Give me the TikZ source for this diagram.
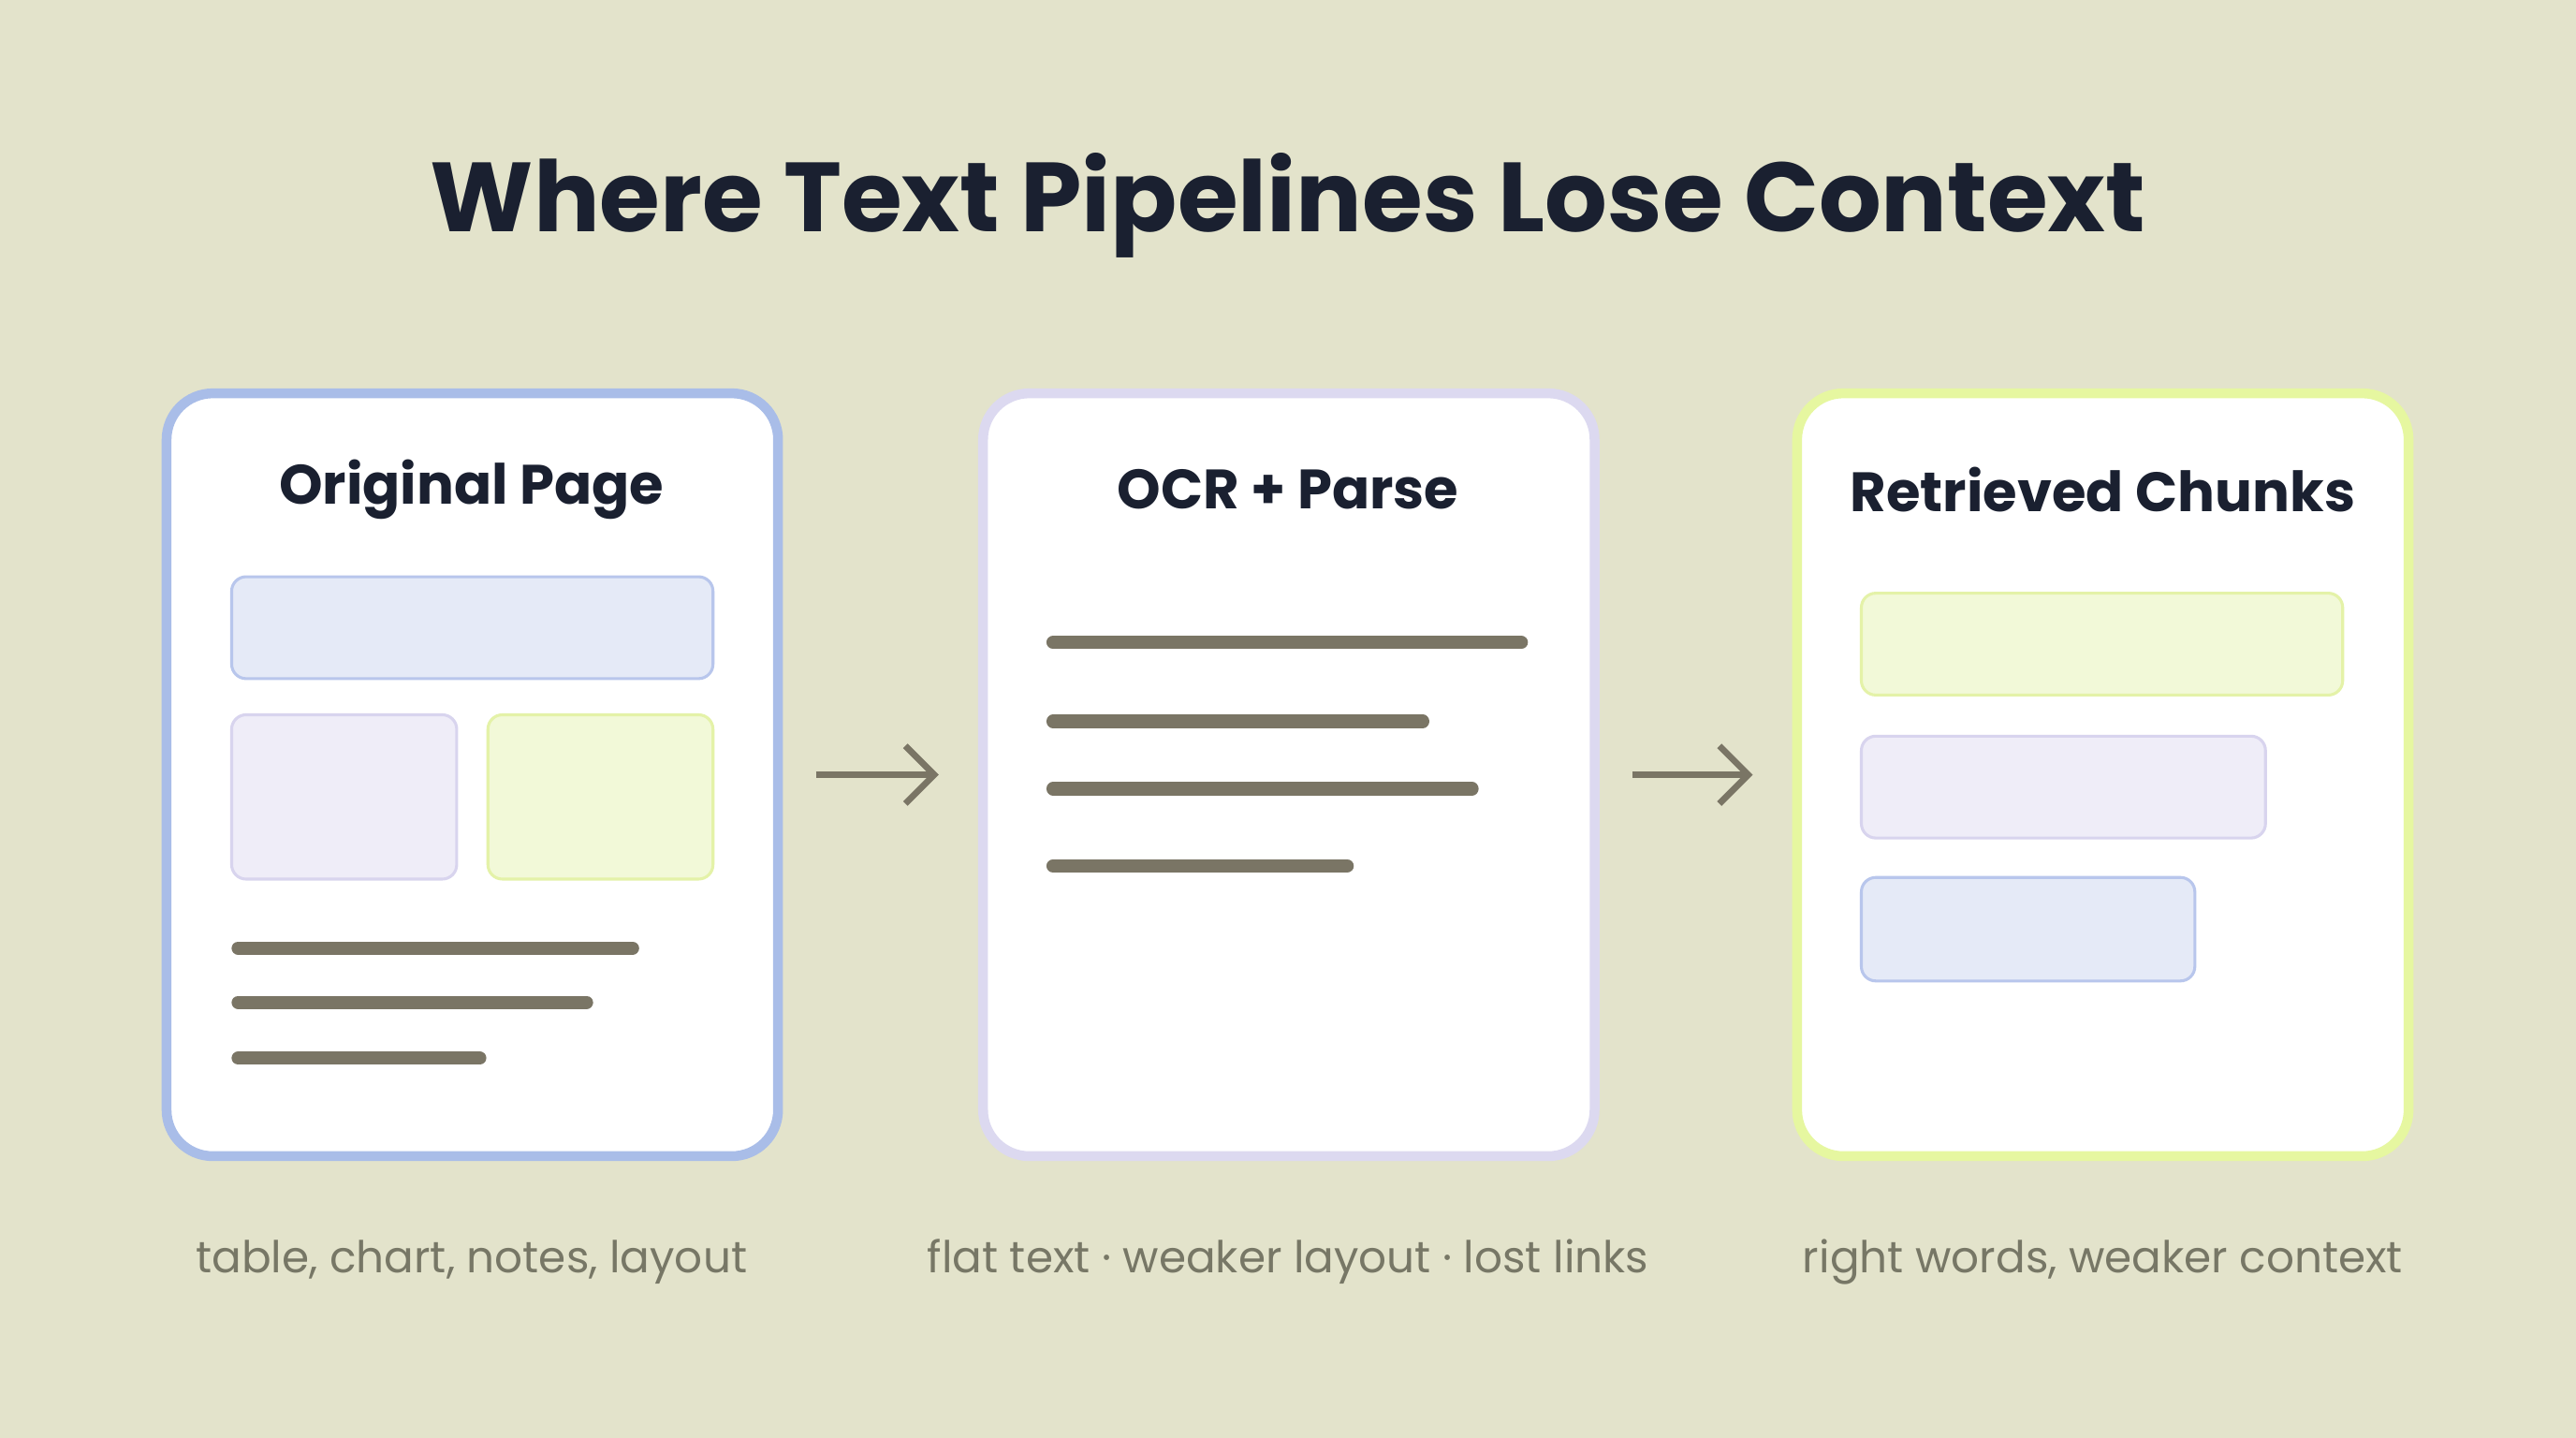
\documentclass[tikz,border=0pt]{standalone}
\usepackage{fontspec}
\setmainfont{Poppins}
\usetikzlibrary{arrows.meta}
\definecolor{bgc}{HTML}{E3E3CB}
\definecolor{ink}{HTML}{1A2030}
\definecolor{capc}{HTML}{777766}
\definecolor{barc}{HTML}{7A7565}
\definecolor{blueE}{HTML}{A9BDE8}
\definecolor{lavE}{HTML}{DCD9F0}
\definecolor{grnE}{HTML}{E6F7A0}
\definecolor{blueF}{HTML}{E5EAF7}
\definecolor{blueB}{HTML}{B8C6EC}
\definecolor{lavF}{HTML}{EFEDF8}
\definecolor{lavB}{HTML}{D8D4EE}
\definecolor{grnF}{HTML}{F2F9D8}
\definecolor{grnB}{HTML}{E4F2A8}
\begin{document}
\begin{tikzpicture}
[x=0.01cm,y=-0.01cm,
panel/.style={draw=#1,line width=1.7pt,fill=white,rounded corners=8pt,minimum width=3.72cm,minimum height=4.64cm,inner sep=0pt},
ptitle/.style={font=\fontsize{9.6}{11}\selectfont\bfseries,text=ink},
caption/.style={font=\fontsize{7.6}{9}\selectfont,text=capc},
blk/.style={draw=#1,line width=0.5pt,rounded corners=2.5pt},
bar/.style={draw=barc,line width=2.3pt,line cap=round},
flow/.style={draw=barc,line width=1.1pt,-{Straight Barb[length=5pt,width=10pt]}}]
\fill[bgc] (0,0) rectangle (1568,875);
\node[font=\fontsize{17}{20}\selectfont\bfseries,text=ink] (title) at (784,125) {Where Text Pipelines Lose Context};
% panels
\node[panel=blueE] (orig) at (287.5,471.5) {};
\node[panel=lavE] (ocr) at (784.5,471.5) {};
\node[panel=grnE] (ret) at (1280,471.5) {};
\node[ptitle] (origT) at (287,298) {Original Page};
\node[ptitle] (ocrT) at (784,298) {OCR + Parse};
\node[ptitle] (retT) at (1280,298) {Retrieved Chunks};
% original page
\draw[blk=blueB,fill=blueF] (141,351) rectangle (434,413);
\draw[blk=lavB,fill=lavF] (141,435) rectangle (278,535);
\draw[blk=grnB,fill=grnF] (297,435) rectangle (434,535);
\draw[bar] (145,577) -- (385,577);
\draw[bar] (145,610) -- (357,610);
\draw[bar] (145,644) -- (292,644);
% parsed text
\draw[bar] (641,391) -- (926,391);
\draw[bar] (641,439) -- (866,439);
\draw[bar] (641,480) -- (896,480);
\draw[bar] (641,527) -- (820,527);
% chunks
\draw[blk=grnB,fill=grnF] (1133,361) rectangle (1426,423);
\draw[blk=lavB,fill=lavF] (1133,448) rectangle (1379,510);
\draw[blk=blueB,fill=blueF] (1133,534) rectangle (1336,597);
% arrows
\draw[flow] ([xshift=0.2cm]orig.east) -- ([xshift=-0.24cm]ocr.west);
\draw[flow] ([xshift=0.2cm]ocr.east) -- ([xshift=-0.24cm]ret.west);
% captions
\node[caption] (origC) at (287,768) {table, chart, notes, layout};
\node[caption] (ocrC) at (784,768) {flat text · weaker layout · lost links};
\node[caption] (retC) at (1280,768) {right words, weaker context};
\end{tikzpicture}
\end{document}
